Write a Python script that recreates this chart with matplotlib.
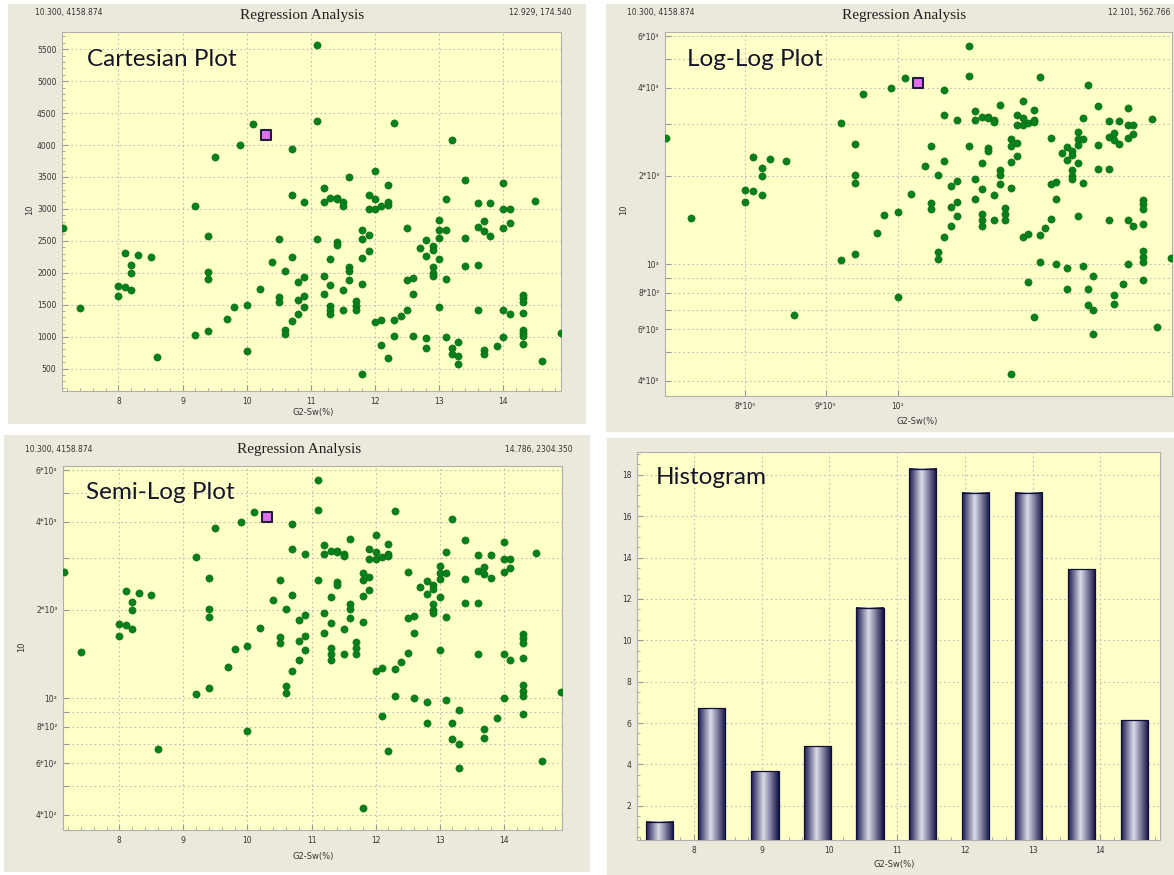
import matplotlib
matplotlib.use('Agg')
import matplotlib.pyplot as plt
import numpy as np
from matplotlib.patches import Rectangle
from matplotlib.colors import LinearSegmentedColormap
from matplotlib.ticker import FixedLocator, FixedFormatter, MultipleLocator, NullLocator, NullFormatter

W, H = 1174, 875

# G2-Sw(%) (x) against "10" (y)
sw = [7.13, 7.40, 8.0, 8.0, 8.1, 8.1, 8.2, 8.2, 8.2, 8.3, 8.5, 8.6,
      9.2, 9.2, 9.4, 9.4, 9.4, 9.4, 9.5, 9.7, 9.8, 9.9, 10.0, 10.0,
      10.1, 10.2, 10.4, 10.5, 10.5, 10.5, 10.6, 10.6, 10.6,
      10.7, 10.7, 10.7, 10.7, 10.8, 10.8, 10.8, 10.9, 10.9, 10.9, 10.9,
      11.1, 11.1, 11.1, 11.2, 11.2, 11.2, 11.2,
      11.3, 11.3, 11.3, 11.3, 11.3, 11.3, 11.4, 11.4, 11.4, 11.4,
      11.5, 11.5, 11.5, 11.5, 11.6, 11.6, 11.6, 11.6, 11.7, 11.7, 11.7,
      11.8, 11.8, 11.8, 11.8, 11.8, 11.9, 11.9, 11.9, 11.9,
      12.0, 12.0, 12.0, 12.0, 12.1, 12.1, 12.1, 12.2, 12.2, 12.2, 12.2,
      12.3, 12.3, 12.3, 12.4, 12.5, 12.5, 12.5, 12.6, 12.6, 12.6, 12.7,
      12.8, 12.8, 12.8, 12.8, 12.9, 12.9, 12.9, 12.9, 12.9,
      13.0, 13.0, 13.0, 13.0, 13.0, 13.1, 13.1, 13.1, 13.1,
      13.2, 13.2, 13.2, 13.3, 13.3, 13.3, 13.4, 13.4, 13.4,
      13.6, 13.6, 13.6, 13.6, 13.7, 13.7, 13.7, 13.7, 13.8, 13.8, 13.9,
      14.0, 14.0, 14.0, 14.0, 14.0, 14.1, 14.1, 14.1,
      14.3, 14.3, 14.3, 14.3, 14.3, 14.3, 14.3, 14.3, 14.5, 14.6, 14.9]
val = [2700, 1440, 1630, 1790, 2315, 1775, 2125, 1995, 1722, 2278, 2252, 673,
       3044, 1030, 2577, 2011, 1895, 1087, 3810, 1276, 1470, 3994, 1502, 772,
       4325, 1738, 2163, 2530, 1617, 1549, 2021, 1103, 1040,
       3942, 3218, 2252, 1240, 1853, 1570, 1355, 3107, 1927, 1628, 1460,
       5563, 4377, 2530, 3328, 3107, 1953, 1670,
       3176, 2220, 1811, 1486, 1418, 1350, 3176, 3155, 2488, 2441,
       3102, 3050, 1728, 1413, 3501, 2089, 2021, 1880, 1554, 1481, 1413,
       2677, 2530, 2231, 1822, 421, 3218, 2997, 2598, 2341,
       3601, 3149, 2997, 1234, 3044, 1266, 872, 3370, 3113, 3055, 662,
       4351, 1260, 1014, 1329, 2698, 1880, 1423, 1911, 1670, 1003, 2394,
       2514, 2263, 972, 820, 2425, 2352, 2095, 1995, 1948,
       2819, 2667, 2546, 2220, 1460, 3160, 2667, 1895, 987,
       4083, 820, 725, 914, 699, 578, 3459, 2546, 2110,
       3092, 2709, 2121, 1418, 2803, 2646, 788, 730, 3092, 2577, 856,
       3401, 2997, 2698, 1418, 998, 2992, 2782, 1355,
       1654, 1601, 1538, 1371, 1109, 1061, 1014, 883, 3128, 610, 1050]
pick_x, pick_y = 10.300, 4158.874

# histogram
hist_x = [7.49, 8.26, 9.05, 9.82, 10.60, 11.38, 12.16, 12.94, 13.72, 14.50]
hist_n = [1.24, 6.72, 3.68, 4.88, 11.58, 18.29, 17.12, 17.12, 13.44, 6.13]

log_grid = [400, 500, 600, 700, 800, 900, 1000, 2000, 3000, 4000, 5000, 6000]
log_lab = {400: '4*10²', 600: '6*10²', 800: '8*10²', 1000: '10³',
           2000: '2*10³', 4000: '4*10³', 6000: '6*10³'}

YELLOW = '#FFFFC8'
PANEL = '#EBE9DC'
GREEN = '#08801A'


def fx(p):
    return p / W


def fy(p):
    return 1 - p / H


def add_ax(l, r, t, b):
    return fig.add_axes([fx(l), fy(b), (r - l) / W, (b - t) / H])


def panel(l, r, t, b):
    fig.patches.append(Rectangle((fx(l), fy(b)), (r - l) / W, (b - t) / H,
                                 transform=fig.transFigure, facecolor=PANEL,
                                 edgecolor='none', zorder=-10))


def style(ax):
    ax.set_facecolor(YELLOW)
    for s in ax.spines.values():
        s.set_color('#B0B0B0')
        s.set_linewidth(0.8)
    ax.grid(True, which='major', color='#BDBDBD', linestyle=(0, (1.5, 2.5)), linewidth=0.8)
    ax.set_axisbelow(True)
    ax.tick_params(which='both', direction='in', colors='#9A9A9A', labelcolor='#333333',
                   labelsize=5.5, pad=4)
    ax.tick_params(which='major', length=4)
    ax.tick_params(which='minor', length=2.5)


def log_y(ax):
    ax.set_yscale('log')
    ax.set_ylim(355, 6200)
    ax.yaxis.set_major_locator(FixedLocator(log_grid))
    ax.yaxis.set_major_formatter(FixedFormatter([log_lab.get(v, '') for v in log_grid]))
    ax.yaxis.set_minor_locator(NullLocator())
    ax.yaxis.set_minor_formatter(NullFormatter())


def scatter(ax):
    ax.scatter(sw, val, s=27, c=GREEN, edgecolors='#0B6A12', linewidths=0.4, zorder=3)
    ax.scatter([pick_x], [pick_y], marker='s', s=62, facecolor='#E070F0',
               edgecolor='#1E1E3C', linewidths=1.5, zorder=4)


def label(x, y, s, **kw):
    fig.text(fx(x), fy(y), s, **kw)


fig = plt.figure(figsize=(W / 100, H / 100), dpi=100)
fig.patch.set_facecolor('white')

panel(8, 586, 4, 424)
panel(606, 1174, 4, 432)
panel(4, 590, 435, 872)
panel(607, 1174, 438, 875)

small = dict(fontsize=5.5, color='#333333', va='center')
ttl = dict(fontsize=11, color='#202020', family='Liberation Serif', ha='center', va='center')
big = dict(fontsize=17.5, color='#15152A', family='Lato', ha='left', va='center')
axl = dict(fontsize=6, color='#333333', ha='center', va='center')

# ---- Cartesian
ax1 = add_ax(62, 561, 32, 391)
style(ax1)
scatter(ax1)
ax1.set_xlim(7.12, 14.9)
ax1.set_ylim(148, 5770)
ax1.xaxis.set_major_locator(MultipleLocator(1))
ax1.xaxis.set_minor_locator(MultipleLocator(0.2))
ax1.yaxis.set_major_locator(FixedLocator(range(500, 5501, 500)))
ax1.yaxis.set_minor_locator(MultipleLocator(100))
label(302, 15, 'Regression Analysis', **ttl)
label(35, 13, '10.300, 4158.874', ha='left', **small)
label(572, 13, '12.929, 174.540', ha='right', **small)
label(30, 210, '10', rotation=90, **axl)
label(313, 412, 'G2-Sw(%)', **axl)
label(87, 60, 'Cartesian Plot', **big)

# ---- Log-Log
ax2 = add_ax(665, 1172, 32, 396)
style(ax2)
scatter(ax2)
ax2.set_xscale('log')
ax2.set_xlim(7.12, 14.92)
ax2.xaxis.set_major_locator(FixedLocator([8, 9, 10]))
ax2.xaxis.set_major_formatter(FixedFormatter(['8*10⁰', '9*10⁰', '10¹']))
ax2.xaxis.set_minor_locator(NullLocator())
ax2.xaxis.set_minor_formatter(NullFormatter())
log_y(ax2)
label(904, 15, 'Regression Analysis', **ttl)
label(627, 13, '10.300, 4158.874', ha='left', **small)
label(1171, 13, '12.101, 562.766', ha='right', **small)
label(624, 210, '10', rotation=90, **axl)
label(917, 422, 'G2-Sw(%)', **axl)
label(687, 60, 'Log-Log Plot', **big)

# ---- Semi-Log
ax3 = add_ax(63, 562, 466, 830)
style(ax3)
scatter(ax3)
ax3.set_xlim(7.12, 14.91)
ax3.xaxis.set_major_locator(MultipleLocator(1))
ax3.xaxis.set_minor_locator(MultipleLocator(0.2))
log_y(ax3)
label(299, 450, 'Regression Analysis', **ttl)
label(25, 450, '10.300, 4158.874', ha='left', **small)
label(573, 450, '14.786, 2304.350', ha='right', **small)
label(22, 647, '10', rotation=90, **axl)
label(313, 856, 'G2-Sw(%)', **axl)
label(86, 493, 'Semi-Log Plot', **big)

# ---- Histogram
ax4 = add_ax(637, 1160, 452, 840)
style(ax4)
bar_w = 0.40
cm = LinearSegmentedColormap.from_list('cyl', [(0, '#181850'), (0.45, '#DCDCEA'), (1, '#121244')])
grad = np.linspace(0, 1, 64).reshape(1, -1)
for c, n in zip(hist_x, hist_n):
    ax4.imshow(grad, extent=[c - bar_w / 2, c + bar_w / 2, 0, n], aspect='auto',
               cmap=cm, zorder=3, interpolation='bicubic')
ax4.bar(hist_x, hist_n, width=bar_w, fill=False, edgecolor='#10103A', linewidth=0.9, zorder=4)
ax4.set_xlim(7.16, 14.88)
ax4.set_ylim(0.35, 19.1)
ax4.xaxis.set_major_locator(MultipleLocator(1))
ax4.xaxis.set_minor_locator(MultipleLocator(0.2))
ax4.yaxis.set_major_locator(FixedLocator(range(2, 19, 2)))
ax4.yaxis.set_minor_locator(MultipleLocator(0.5))
label(894, 865, 'G2-Sw(%)', **axl)
label(656, 478, 'Histogram', **big)

fig.savefig('out.png', dpi=100, facecolor='white')
